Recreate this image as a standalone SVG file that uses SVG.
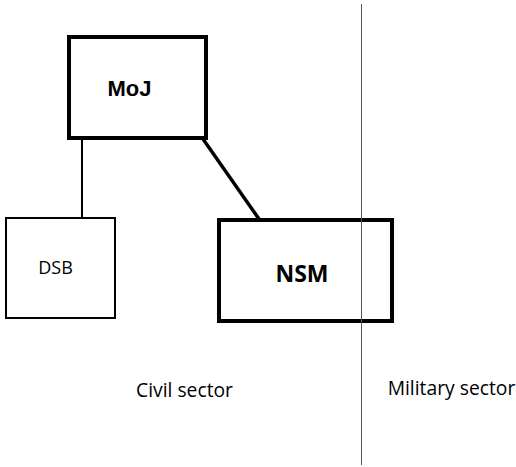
<svg xmlns="http://www.w3.org/2000/svg" width="516" height="467" viewBox="0 0 516 467">
<style>
.box{fill:#fff;stroke:#000}
.t{font-family:"Open Sans","Liberation Sans",sans-serif;fill:#000}
</style>
<rect width="516" height="467" fill="#fff"/>
<g id="connectors" stroke="#000" fill="none">
<line x1="82" y1="138" x2="82" y2="218" stroke-width="2"/>
<line x1="203" y1="139" x2="259" y2="219" stroke-width="3.5"/>
</g>
<g id="MoJ">
<rect class="box" x="69" y="37" width="137" height="101" stroke-width="4"/>
<text x="129.5" y="96" text-anchor="middle" font-family="Liberation Sans,Arial,sans-serif" font-weight="bold" font-size="22">MoJ</text>
</g>
<g id="DSB">
<rect class="box" x="6" y="218" width="109" height="100" stroke-width="2"/>
<text class="t" x="55.5" y="274" text-anchor="middle" font-size="18">DSB</text>
</g>
<g id="NSM">
<rect class="box" x="219" y="220" width="173" height="101" stroke-width="4"/>
<text class="t" x="302" y="282" text-anchor="middle" font-size="23" font-weight="bold">NSM</text>
</g>
<g id="divider">
<line x1="361.5" y1="4" x2="361.5" y2="465" stroke="#555" stroke-width="1"/>
</g>
<g id="labels">
<text class="t" x="184.5" y="397" text-anchor="middle" font-size="19.3">Civil sector</text>
<text class="t" x="451.5" y="395" text-anchor="middle" font-size="19.3">Military sector</text>
</g>
</svg>
